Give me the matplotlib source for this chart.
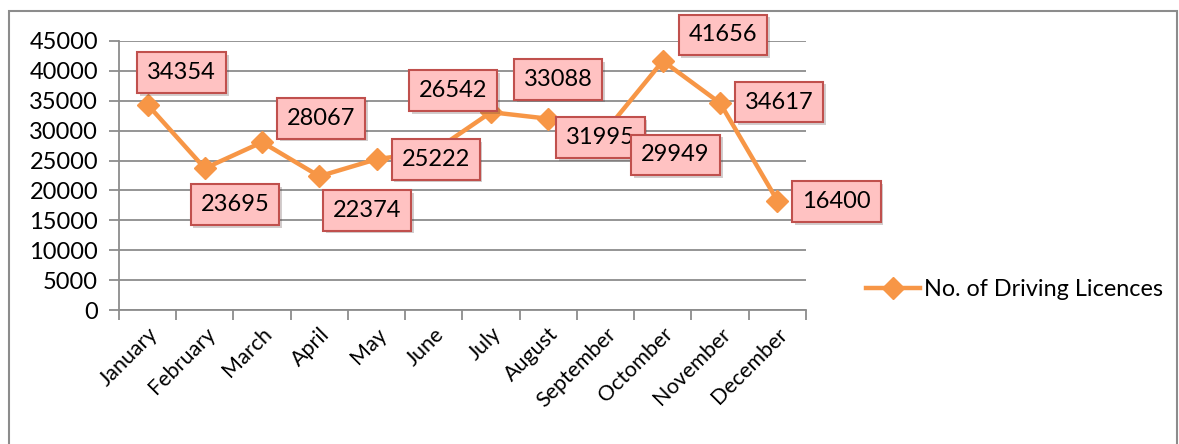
import matplotlib
matplotlib.use("Agg")
import matplotlib.pyplot as plt
import matplotlib.patheffects as pe
from matplotlib.patches import Rectangle

months = ["January", "February", "March", "April", "May", "June", "July",
          "August", "September", "Octomber", "November", "December"]
licences = [34354, 23695, 28067, 22374, 25222, 26542, 33088,
            31995, 29949, 41656, 34617, 18300]
label_texts = ["34354", "23695", "28067", "22374", "25222", "26542", "33088",
               "31995", "29949", "41656", "34617", "16400"]
y_ticks = list(range(0, 45001, 5000))

# where each label box sits relative to its point (pixels)
label_offsets = [(34, 32), (30, -36), (59, 24), (48, -34), (59, 0), (19, 61),
                 (67, 33), (52, -19), (70, -24), (60, 26), (59, 1), (59, -1)]

plt.rcParams['font.family'] = ['Lato', 'DejaVu Sans']
orange = '#F79646'
grid_gray = '#8C8C8C'

fig = plt.figure(figsize=(11.79, 4.44), dpi=100)
ax = fig.add_axes([0.1009, 0.3018, 0.5827, 0.6059])

x = list(range(len(months)))
ax.plot(x, licences, color=orange, lw=3.2, marker='D', markersize=11,
        label='No. of Driving Licences', zorder=3)

for xi, yi, txt, off in zip(x, licences, label_texts, label_offsets):
    ann = ax.annotate(txt, (xi, yi), xytext=(off[0] * 0.72, off[1] * 0.72),
                      textcoords='offset points', ha='center', va='center',
                      fontsize=17, zorder=5,
                      bbox=dict(boxstyle='square,pad=0.42', fc='#FFC2C2',
                                ec='#C0504D', lw=1.5))
    ann.get_bbox_patch().set_path_effects(
        [pe.SimplePatchShadow(offset=(2, -2), alpha=0.25), pe.Normal()])

ax.set_xlim(-0.5, len(months) - 0.5)
ax.set_ylim(0, 45000)
ax.set_yticks(y_ticks)
ax.set_yticklabels([str(v) for v in y_ticks], fontsize=17)
ax.set_xticks([i - 0.5 for i in range(len(months) + 1)])
ax.set_xticklabels([])
ax.set_xticks(x, minor=True)
ax.set_xticklabels(months, minor=True, rotation=45, ha='right', va='top',
                   rotation_mode='anchor', fontsize=15.5)
ax.tick_params(axis='x', which='major', length=7, width=1.3, color=grid_gray)
ax.tick_params(axis='x', which='minor', length=0, pad=10)
ax.tick_params(axis='y', length=7, width=1.3, color=grid_gray, pad=8)

ax.grid(axis='y', color=grid_gray, lw=1.3)
ax.set_axisbelow(True)
for side in ['top', 'right']:
    ax.spines[side].set_visible(False)
for side in ['left', 'bottom']:
    ax.spines[side].set_color(grid_gray)
    ax.spines[side].set_linewidth(1.3)

leg = fig.legend(loc='center left', bbox_to_anchor=(0.7345, 0.347),
                 frameon=False, fontsize=16.8, handlelength=2.3,
                 handletextpad=0.2, borderaxespad=0, borderpad=0)

fig.patches.append(Rectangle((9 / 1179, -0.05), 1168 / 1179, 1.0252,
                             transform=fig.transFigure, fill=False,
                             ec='#8C8C8C', lw=1.5))

fig.savefig('out.png', dpi=100)
